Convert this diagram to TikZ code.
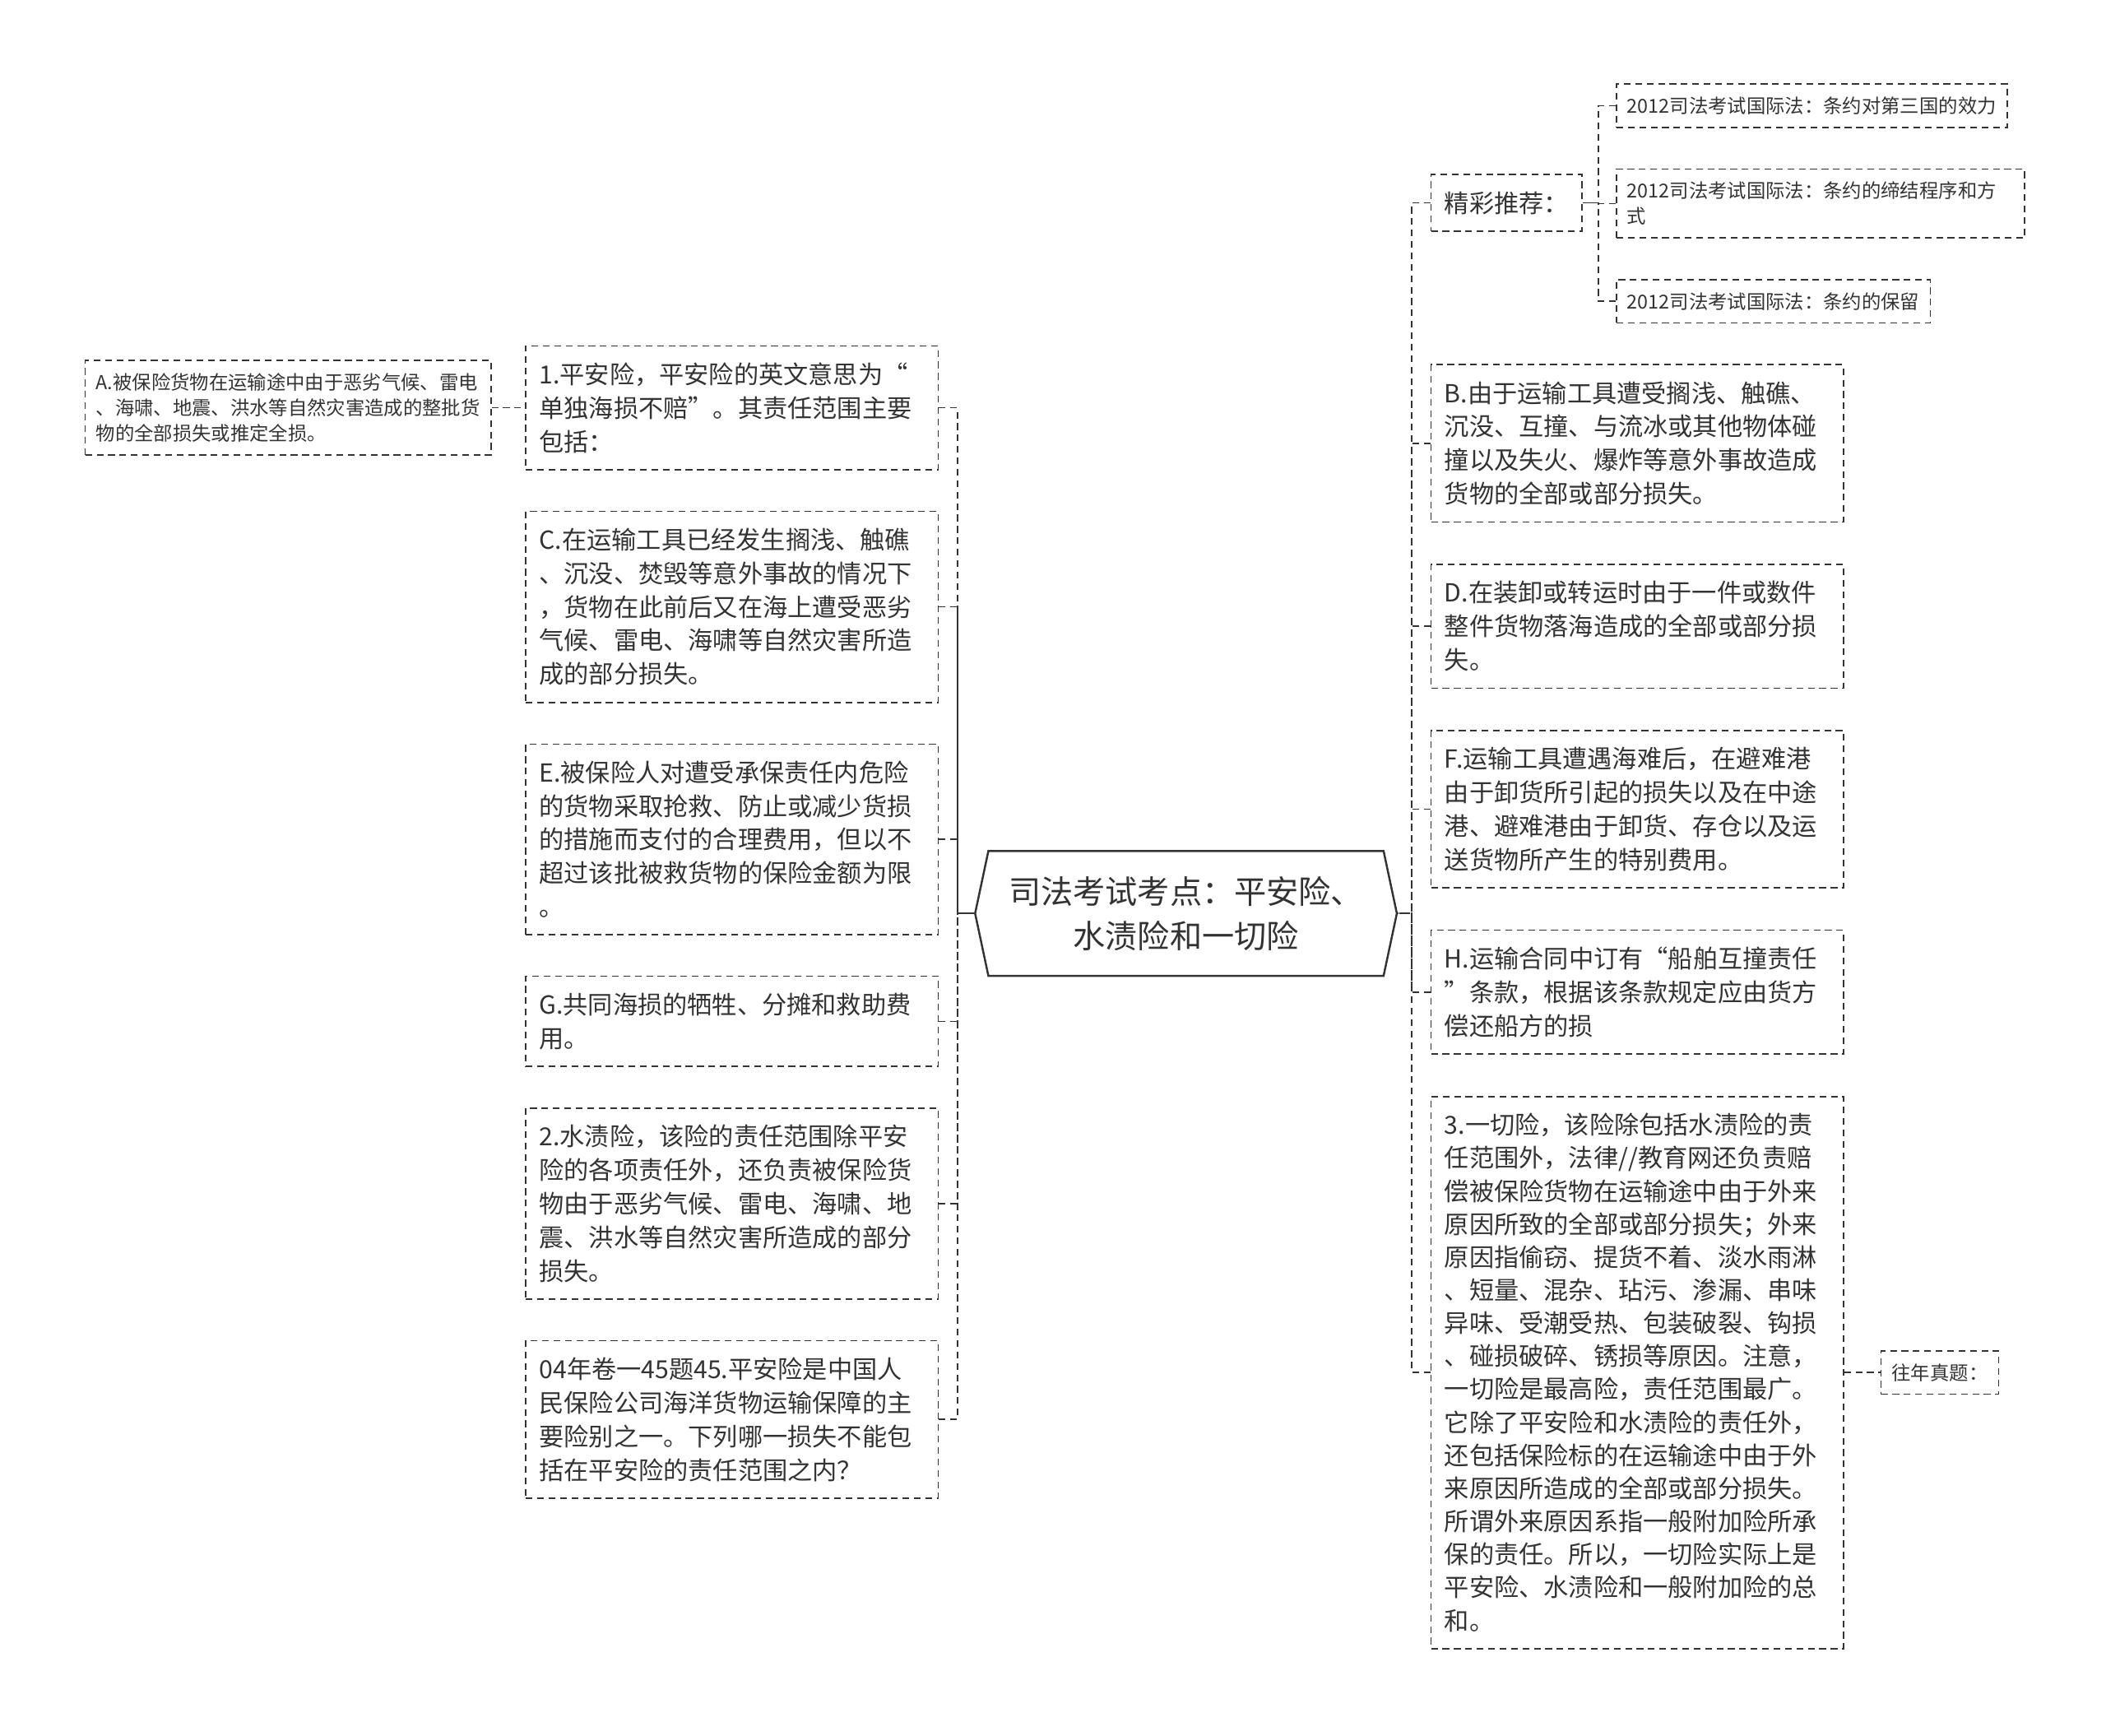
\documentclass[tikz,border=0pt]{standalone}
\usepackage{fontspec}
\setmainfont{Noto Sans CJK SC}
\usepackage{tikz}
\usetikzlibrary{positioning,shapes.symbols}
\definecolor{Ink}{HTML}{333333}

\begin{document}
\begin{tikzpicture}[x=1pt,y=-1pt,
    every node/.style={text=Ink},
    tag/.style={draw=Ink,line width=1pt,dash pattern=on 5pt off 3.5pt,align=left,
      inner xsep=10pt,inner ysep=12.5pt,font=\fontsize{18.5pt}{25pt}\selectfont},
    box/.style={tag,text width=287pt},
    sbox/.style={draw=Ink,line width=1pt,dash pattern=on 5pt off 3.5pt,align=left,
      inner xsep=8pt,inner ysep=9.5pt,font=\fontsize{14.3pt}{19pt}\selectfont},
    hub/.style={draw=Ink,line width=1.5pt,signal,signal to=east and west,
      signal pointer angle=156,minimum width=314pt,minimum height=93pt,align=center,
      font=\fontsize{24pt}{33pt}\selectfont},
    lnk/.style={draw=Ink,line width=1pt,dash pattern=on 5pt off 3.5pt}]
  \useasboundingbox (0,0) rectangle (1568,1292);

  \node[hub] (root) at (883,680) {司法考试考点：平安险、\\水渍险和一切险};

  % left branch
  \node[box,anchor=north west] (p1) at (391,257) {1.平安险，平安险的英文意思为“\\单独海损不赔”。其责任范围主要\\包括：};
  \node[box,below=30pt of p1.south west,anchor=north west] (pc) {C.在运输工具已经发生搁浅、触礁\\、沉没、焚毁等意外事故的情况下\\，货物在此前后又在海上遭受恶劣\\气候、雷电、海啸等自然灾害所造\\成的部分损失。};
  \node[box,below=30pt of pc.south west,anchor=north west] (pe) {E.被保险人对遭受承保责任内危险\\的货物采取抢救、防止或减少货损\\的措施而支付的合理费用，但以不\\超过该批被救货物的保险金额为限\\。};
  \node[box,below=30pt of pe.south west,anchor=north west] (pg) {G.共同海损的牺牲、分摊和救助费\\用。};
  \node[box,below=30pt of pg.south west,anchor=north west] (p2) {2.水渍险，该险的责任范围除平安\\险的各项责任外，还负责被保险货\\物由于恶劣气候、雷电、海啸、地\\震、洪水等自然灾害所造成的部分\\损失。};
  \node[box,below=30pt of p2.south west,anchor=north west] (p04) {04年卷一45题45.平安险是中国人\\民保险公司海洋货物运输保障的主\\要险别之一。下列哪一损失不能包\\括在平安险的责任范围之内？};
  \node[sbox,left=25pt of p1] (pa) {A.被保险货物在运输途中由于恶劣气候、雷电\\、海啸、地震、洪水等自然灾害造成的整批货\\物的全部损失或推定全损。};

  % right branch
  \node[tag,anchor=west] (rec) at (1065,151) {精彩推荐：};
  \node[sbox,text width=288pt,anchor=west] (r2) at (1203,151.5) {2012司法考试国际法：条约的缔结程序和方\\式};
  \node[sbox,above=30pt of r2.north west,anchor=south west] (r1) {2012司法考试国际法：条约对第三国的效力};
  \node[sbox,below=30pt of r2.south west,anchor=north west] (r3) {2012司法考试国际法：条约的保留};
  \node[box,anchor=north west] (qb) at (1065,271) {B.由于运输工具遭受搁浅、触礁、\\沉没、互撞、与流冰或其他物体碰\\撞以及失火、爆炸等意外事故造成\\货物的全部或部分损失。};
  \node[box,below=30.5pt of qb.south west,anchor=north west] (qd) {D.在装卸或转运时由于一件或数件\\整件货物落海造成的全部或部分损\\失。};
  \node[box,below=30.5pt of qd.south west,anchor=north west] (qf) {F.运输工具遭遇海难后，在避难港\\由于卸货所引起的损失以及在中途\\港、避难港由于卸货、存仓以及运\\送货物所产生的特别费用。};
  \node[box,below=30.5pt of qf.south west,anchor=north west] (qh) {H.运输合同中订有“船舶互撞责任\\”条款，根据该条款规定应由货方\\偿还船方的损};
  \node[box,below=30.5pt of qh.south west,anchor=north west,
    font=\fontsize{18.5pt}{24.6pt}\selectfont] (q3) {3.一切险，该险除包括水渍险的责\\任范围外，法律//教育网还负责赔\\偿被保险货物在运输途中由于外来\\原因所致的全部或部分损失；外来\\原因指偷窃、提货不着、淡水雨淋\\、短量、混杂、玷污、渗漏、串味\\异味、受潮受热、包装破裂、钩损\\、碰损破碎、锈损等原因。注意，\\一切险是最高险，责任范围最广。\\它除了平安险和水渍险的责任外，\\还包括保险标的在运输途中由于外\\来原因所造成的全部或部分损失。\\所谓外来原因系指一般附加险所承\\保的责任。所以，一切险实际上是\\平安险、水渍险和一般附加险的总\\和。};
  \node[sbox,right=27pt of q3] (past) {往年真题：};

  % connectors
  \foreach \n in {p1,pc,pe,pg,p2,p04}
    \draw[lnk] (\n.east) -- ++(14,0) |- (root.west);
  \foreach \n in {rec,qb,qd,qf,qh,q3}
    \draw[lnk] (\n.west) -- ++(-14,0) |- (root.east);
  \foreach \n in {r1,r2,r3}
    \draw[lnk] (\n.west) -- ++(-13,0) |- (rec.east);
  \draw[lnk] (pa.east) -- (p1.west);
  \draw[lnk] (q3.east) -- (past.west);
\end{tikzpicture}
\end{document}
